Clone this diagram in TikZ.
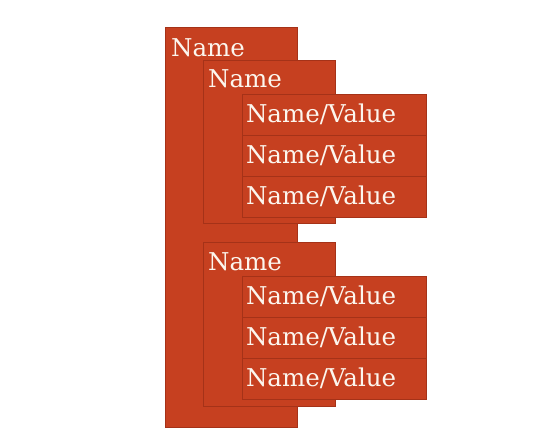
\documentclass[tikz,border=0pt]{standalone}
\usepackage{fontspec}
\setmainfont{DejaVu Serif}
\usetikzlibrary{positioning}
\definecolor{boxred}{RGB}{198,64,32}
\definecolor{edgered}{RGB}{165,50,24}
\definecolor{textcream}{RGB}{252,246,238}
\tikzset{
  box/.style={draw=edgered, fill=boxred, line width=0.7pt, anchor=north west, inner sep=0pt, outer sep=0pt},
  namebox/.style={box, minimum width=132pt},
  pairbox/.style={box, minimum height=41pt, text width=176pt, inner xsep=4pt, align=left, text=textcream, font=\fontsize{24.5}{26}\selectfont},
  nametext/.style={anchor=base west, inner sep=0pt, text=textcream, font=\fontsize{24.5}{26}\selectfont}
}
\begin{document}
\begin{tikzpicture}[x=1pt, y=-1pt]
  \useasboundingbox (0,0) rectangle (541,440);
  % outer object
  \node[namebox, minimum height=400pt] (outer) at (165,27) {};
  \node[nametext] (outername) at (171,56) {Name};
  % first inner object
  \node[namebox, minimum height=163pt] (inner1) at (203,60) {};
  \node[nametext] (innername1) at (208,87) {Name};
  \node[pairbox] (p11) at (242,94) {Name/Value};
  \node[pairbox, below=0pt of p11.south west, anchor=north west] (p12) {Name/Value};
  \node[pairbox, below=0pt of p12.south west, anchor=north west] (p13) {Name/Value};
  % second inner object
  \node[namebox, minimum height=164pt] (inner2) at (203,242) {};
  \node[nametext] (innername2) at (208,270) {Name};
  \node[pairbox] (p21) at (242,276) {Name/Value};
  \node[pairbox, below=0pt of p21.south west, anchor=north west] (p22) {Name/Value};
  \node[pairbox, below=0pt of p22.south west, anchor=north west] (p23) {Name/Value};
\end{tikzpicture}
\end{document}
